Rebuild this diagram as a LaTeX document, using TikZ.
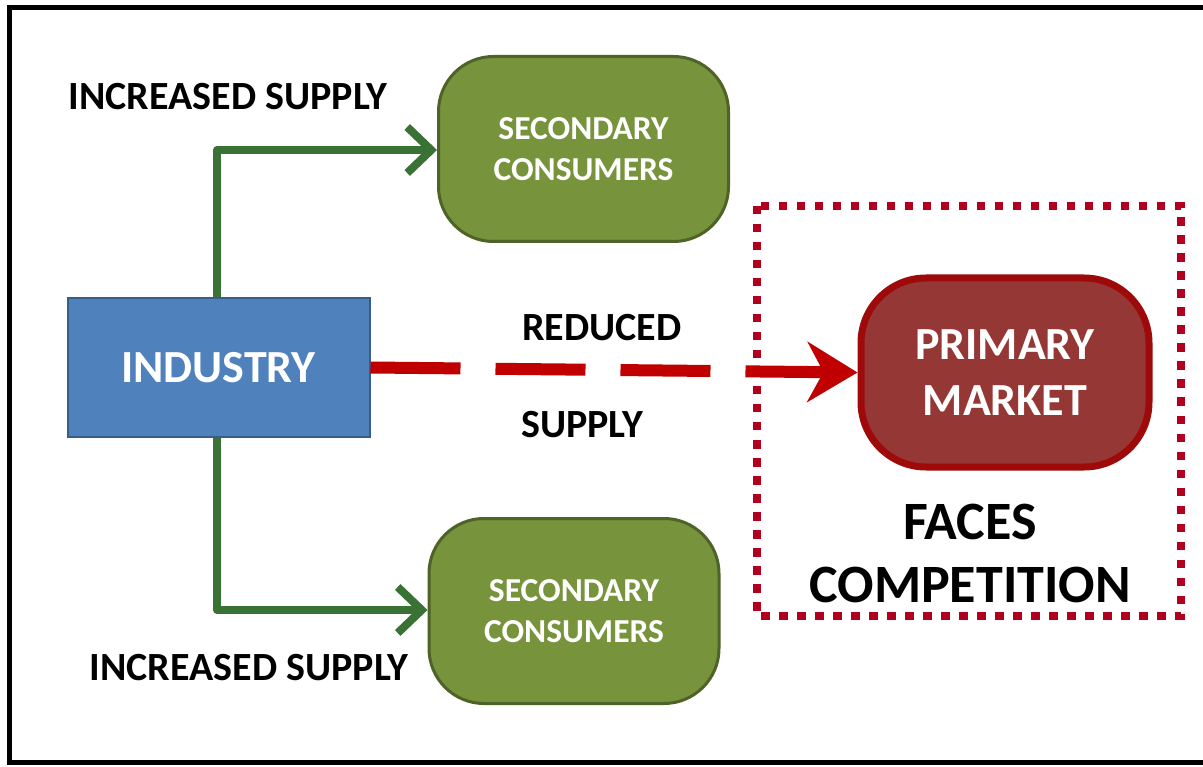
\documentclass[tikz,border=0pt]{standalone}
\usepackage{fontspec}
\setmainfont{Carlito}
\usetikzlibrary{arrows.meta,positioning}
\definecolor{indblue}{HTML}{4F81BD}
\definecolor{indblueb}{HTML}{385D8A}
\definecolor{secgreen}{HTML}{77933C}
\definecolor{secgreenb}{HTML}{4F6228}
\definecolor{arrgreen}{HTML}{3A7236}
\definecolor{primfill}{HTML}{953735}
\definecolor{primb}{HTML}{9E0A0A}
\definecolor{redline}{HTML}{C00000}
\definecolor{dotred}{HTML}{B0001E}
\tikzset{
  secbox/.style={draw=secgreenb, line width=3pt, fill=secgreen, rounded corners=55pt,
    minimum width=290pt, minimum height=185pt, text=white, align=center,
    font=\bfseries\fontsize{33.5}{41}\selectfont},
  lbl/.style={font=\bfseries\fontsize{40}{46}\selectfont, text=black, inner sep=0pt},
  greenarrow/.style={draw=arrgreen, line width=8pt, line join=round,
    -{Straight Barb[length=24pt,width=46pt]}},
}
\begin{document}
\begin{tikzpicture}[x=1pt,y=-1pt]
\useasboundingbox (0,0) rectangle (1203,767);
\fill[white] (0,0) rectangle (1203,767);
% outer frame
\draw[line width=5pt, black] (1215,8) -- (9,8) -- (9,762) -- (1215,762);
% dotted box
\draw[dotred, line width=8.5pt, dash pattern=on 8.5pt off 9.5pt] (757,206) rectangle (1181,616);
% industry
\node[draw=indblueb, line width=2pt, fill=indblue, minimum width=302pt, minimum height=139pt,
  text=white, font=\bfseries\fontsize{46}{56}\selectfont] (ind) at (218.5,367.5) {INDUSTRY};
% secondary boxes
\node[secbox] (sec1) at (583.5,149) {SECONDARY\\CONSUMERS};
\node[secbox] (sec2) at (574,611) {SECONDARY\\CONSUMERS};
% primary market
\node[draw=primb, line width=7pt, fill=primfill, rounded corners=65pt, minimum width=288pt,
  minimum height=189pt, text=white, align=center,
  font=\bfseries\fontsize{46}{56}\selectfont] (prim) at (1005,372.5) {PRIMARY\\MARKET};
% connectors
\coordinate (c1) at (217,150);
\coordinate (c2) at (217,610);
\draw[greenarrow] (ind.north -| c1) -- (c1) -- (c1 -| sec1.west);
\draw[greenarrow] (ind.south -| c2) -- (c2) -- (c2 -| sec2.west);
\draw[redline, line width=12pt, dash pattern=on 90pt off 35pt,
  -{Stealth[length=50pt,width=60pt,inset=16pt]}] (ind.east) -- (prim.west);
% labels
\node[lbl] (inc1) at (228,97) {INCREASED SUPPLY};
\node[lbl] (inc2) at (249,668) {INCREASED SUPPLY};
\node[lbl] (red) at (602,328) {REDUCED};
\node[lbl] (sup) at (582,425) {SUPPLY};
\node[align=center, font=\bfseries\fontsize{54}{63}\selectfont] (faces) at (970,553) {FACES\\COMPETITION};
\end{tikzpicture}
\end{document}
